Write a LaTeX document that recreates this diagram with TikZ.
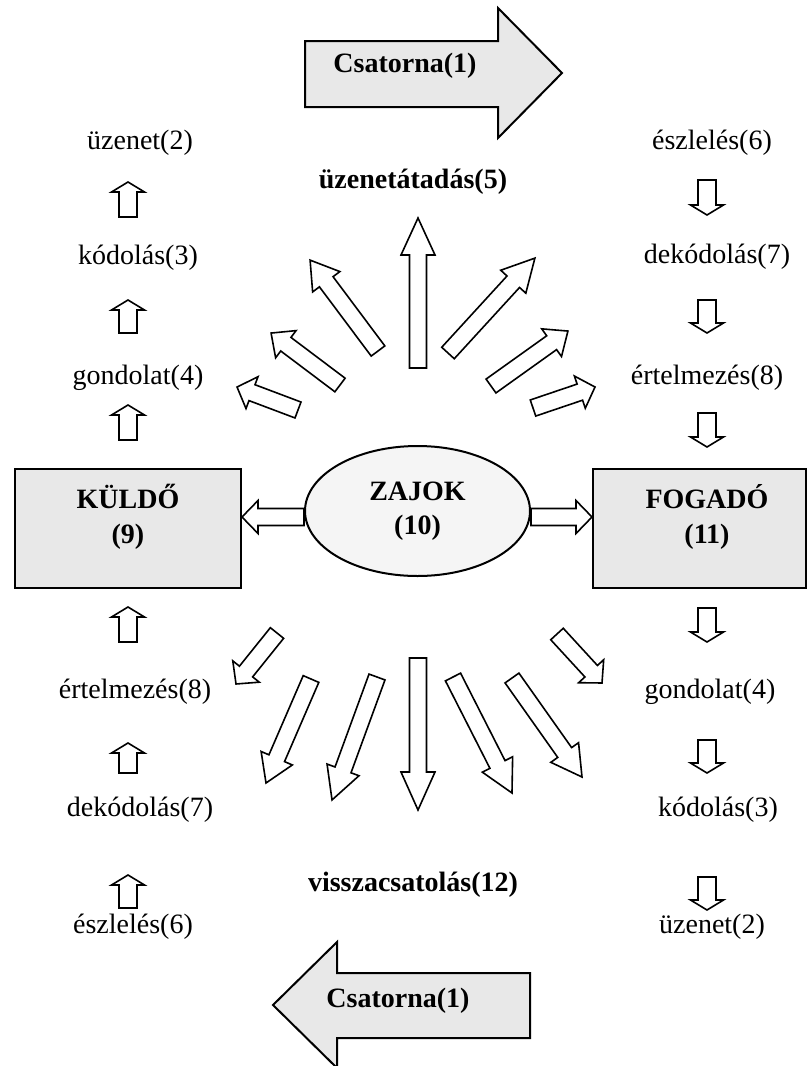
\documentclass[tikz,border=0pt]{standalone}
\usepackage{fontspec}
\setmainfont{Liberation Serif}
\usetikzlibrary{positioning,calc,shapes.geometric}

\tikzset{
    ba shaft/.store in=\bashaft, ba head/.store in=\bahead, ba len/.store in=\balen,
    ba shaft=4.25pt, ba head=8.5pt, ba len=15pt
}

% hollow block arrow from #2 to #3
\newcommand{\blockarrow}[3][]{%
  \path (#2) coordinate (baS) (#3) coordinate (baE);
  \pgfpointdiff{\pgfpointanchor{baS}{center}}{\pgfpointanchor{baE}{center}}%
  \pgfgetlastxy{\badx}{\bady}%
  \pgfmathsetmacro{\baang}{atan2(\bady,\badx)}%
  \pgfmathsetmacro{\badist}{veclen(\badx,\bady)}%
  \draw[hollow,#1,shift={(baS)},rotate=\baang]
    (0pt,-\bashaft) -- ({\badist pt-\balen},-\bashaft)
    -- ({\badist pt-\balen},-\bahead) -- (\badist pt,0pt)
    -- ({\badist pt-\balen},\bahead) -- ({\badist pt-\balen},\bashaft)
    -- (0pt,\bashaft) -- cycle;
}

\begin{document}
\begin{tikzpicture}[
    x=0.5pt, y=-0.5pt,
    lbl/.style={font=\fontsize{14}{17.5}\selectfont, inner sep=1pt},
    title/.style={font=\fontsize{14}{17.5}\selectfont\bfseries, align=center, inner sep=1pt},
    party/.style={rectangle, draw, line width=1pt, fill=black!9, minimum height=59.5pt, inner sep=0pt},
    noise/.style={ellipse, draw, line width=1pt, fill=black!4, minimum width=112.5pt, minimum height=65pt,
        inner sep=0pt, align=center, font=\fontsize{14}{17}\selectfont\bfseries},
    hollow/.style={draw=black, line width=0.8pt, fill=white},
    channel/.style={draw=black, line width=1pt, fill=black!9},
    lblarrow/.style={ba shaft=4.5pt, ba head=8.25pt, ba len=5pt},
    wide/.style={ba shaft=4.25pt, ba head=8.25pt, ba len=8pt}
]
\useasboundingbox (0,0) rectangle (808,1066);

% Channel arrows
\draw[channel] (305,41) -- (498,41) -- (498,8) -- (562,73) -- (498,138) -- (498,107) -- (305,107) -- cycle;
\node[title] (chtop) at (405,66) {Csatorna(1)};
\draw[channel] (530,973) -- (337,973) -- (337,942) -- (273,1005) -- (337,1068) -- (337,1038) -- (530,1038) -- cycle;
\node[title] (chbot) at (398,1001) {Csatorna(1)};

% Sender, noise, receiver
\node[party, minimum width=113pt] (kuldo) at (128,528.5) {};
\node[title] (kuldolbl) at (128,517) {KÜLDŐ\\(9)};
\node[party, minimum width=106.5pt] (fogado) at (699.5,528.5) {};
\node[title] (fogadolbl) at (707,517) {FOGADÓ\\(11)};
\node[noise] (zajok) at (417.5,511) {ZAJOK\\(10)};

\coordinate (zl) at ($(zajok.west)+(0,6)$);
\coordinate (zr) at ($(zajok.east)+(0,6)$);
\blockarrow[wide]{zl}{kuldo.east |- zl}
\blockarrow[wide]{zr}{fogado.west |- zr}

% Left column
\node[lbl] (uz1) at (140,143) {üzenet(2)};
\node[lbl] (kod1) at (138,258) {kódolás(3)};
\node[lbl] (gon1) at (138,378) {gondolat(4)};
\node[lbl] (ert1) at (135,692) {értelmezés(8)};
\node[lbl] (dek1) at (140,810) {dekódolás(7)};
\node[lbl] (esz1) at (133,927) {észlelés(6)};
\foreach \ya/\yb in {217/182, 333/300, 440/405, 642/607, 773/743, 908/875}
  {\blockarrow[lblarrow]{128,\ya}{128,\yb}}

% Right column
\node[lbl] (esz2) at (712,143) {észlelés(6)};
\node[lbl] (dek2) at (717,257) {dekódolás(7)};
\node[lbl] (ert2) at (707,378) {értelmezés(8)};
\node[lbl] (gon2) at (710,692) {gondolat(4)};
\node[lbl] (kod2) at (718,810) {kódolás(3)};
\node[lbl] (uz2) at (712,927) {üzenet(2)};
\foreach \ya/\yb in {180/215, 300/333, 413/447, 608/642, 740/773, 877/910}
  {\blockarrow[lblarrow]{707,\ya}{707,\yb}}

% Message and feedback fans
\node[title] (atadas) at (413,182) {üzenetátadás(5)};
\node[title] (vissza) at (413,885) {visszacsatolás(12)};
\foreach \tx/\ty/\hx/\hy/\hl in {378/351/310/260/13.5pt, 340/385/271/333/9.25pt, 298/410/237/387/8pt,
    418/368/418/218/18.5pt, 448/353/535/258/16pt, 491/386/568/331/10pt, 533/408/595/387/8pt}
  {\blockarrow[ba len=\hl]{\tx,\ty}{\hx,\hy}}
\foreach \tx/\ty/\hx/\hy/\hl in {277/633/236/684/8pt, 311/679/266/783/13.5pt, 377/677/332/800/16pt,
    418/658/418/810/19pt, 453/677/512/793/16pt, 512/678/582/777/15pt, 557/634/602/683/8pt}
  {\blockarrow[ba len=\hl]{\tx,\ty}{\hx,\hy}}

\end{tikzpicture}
\end{document}
